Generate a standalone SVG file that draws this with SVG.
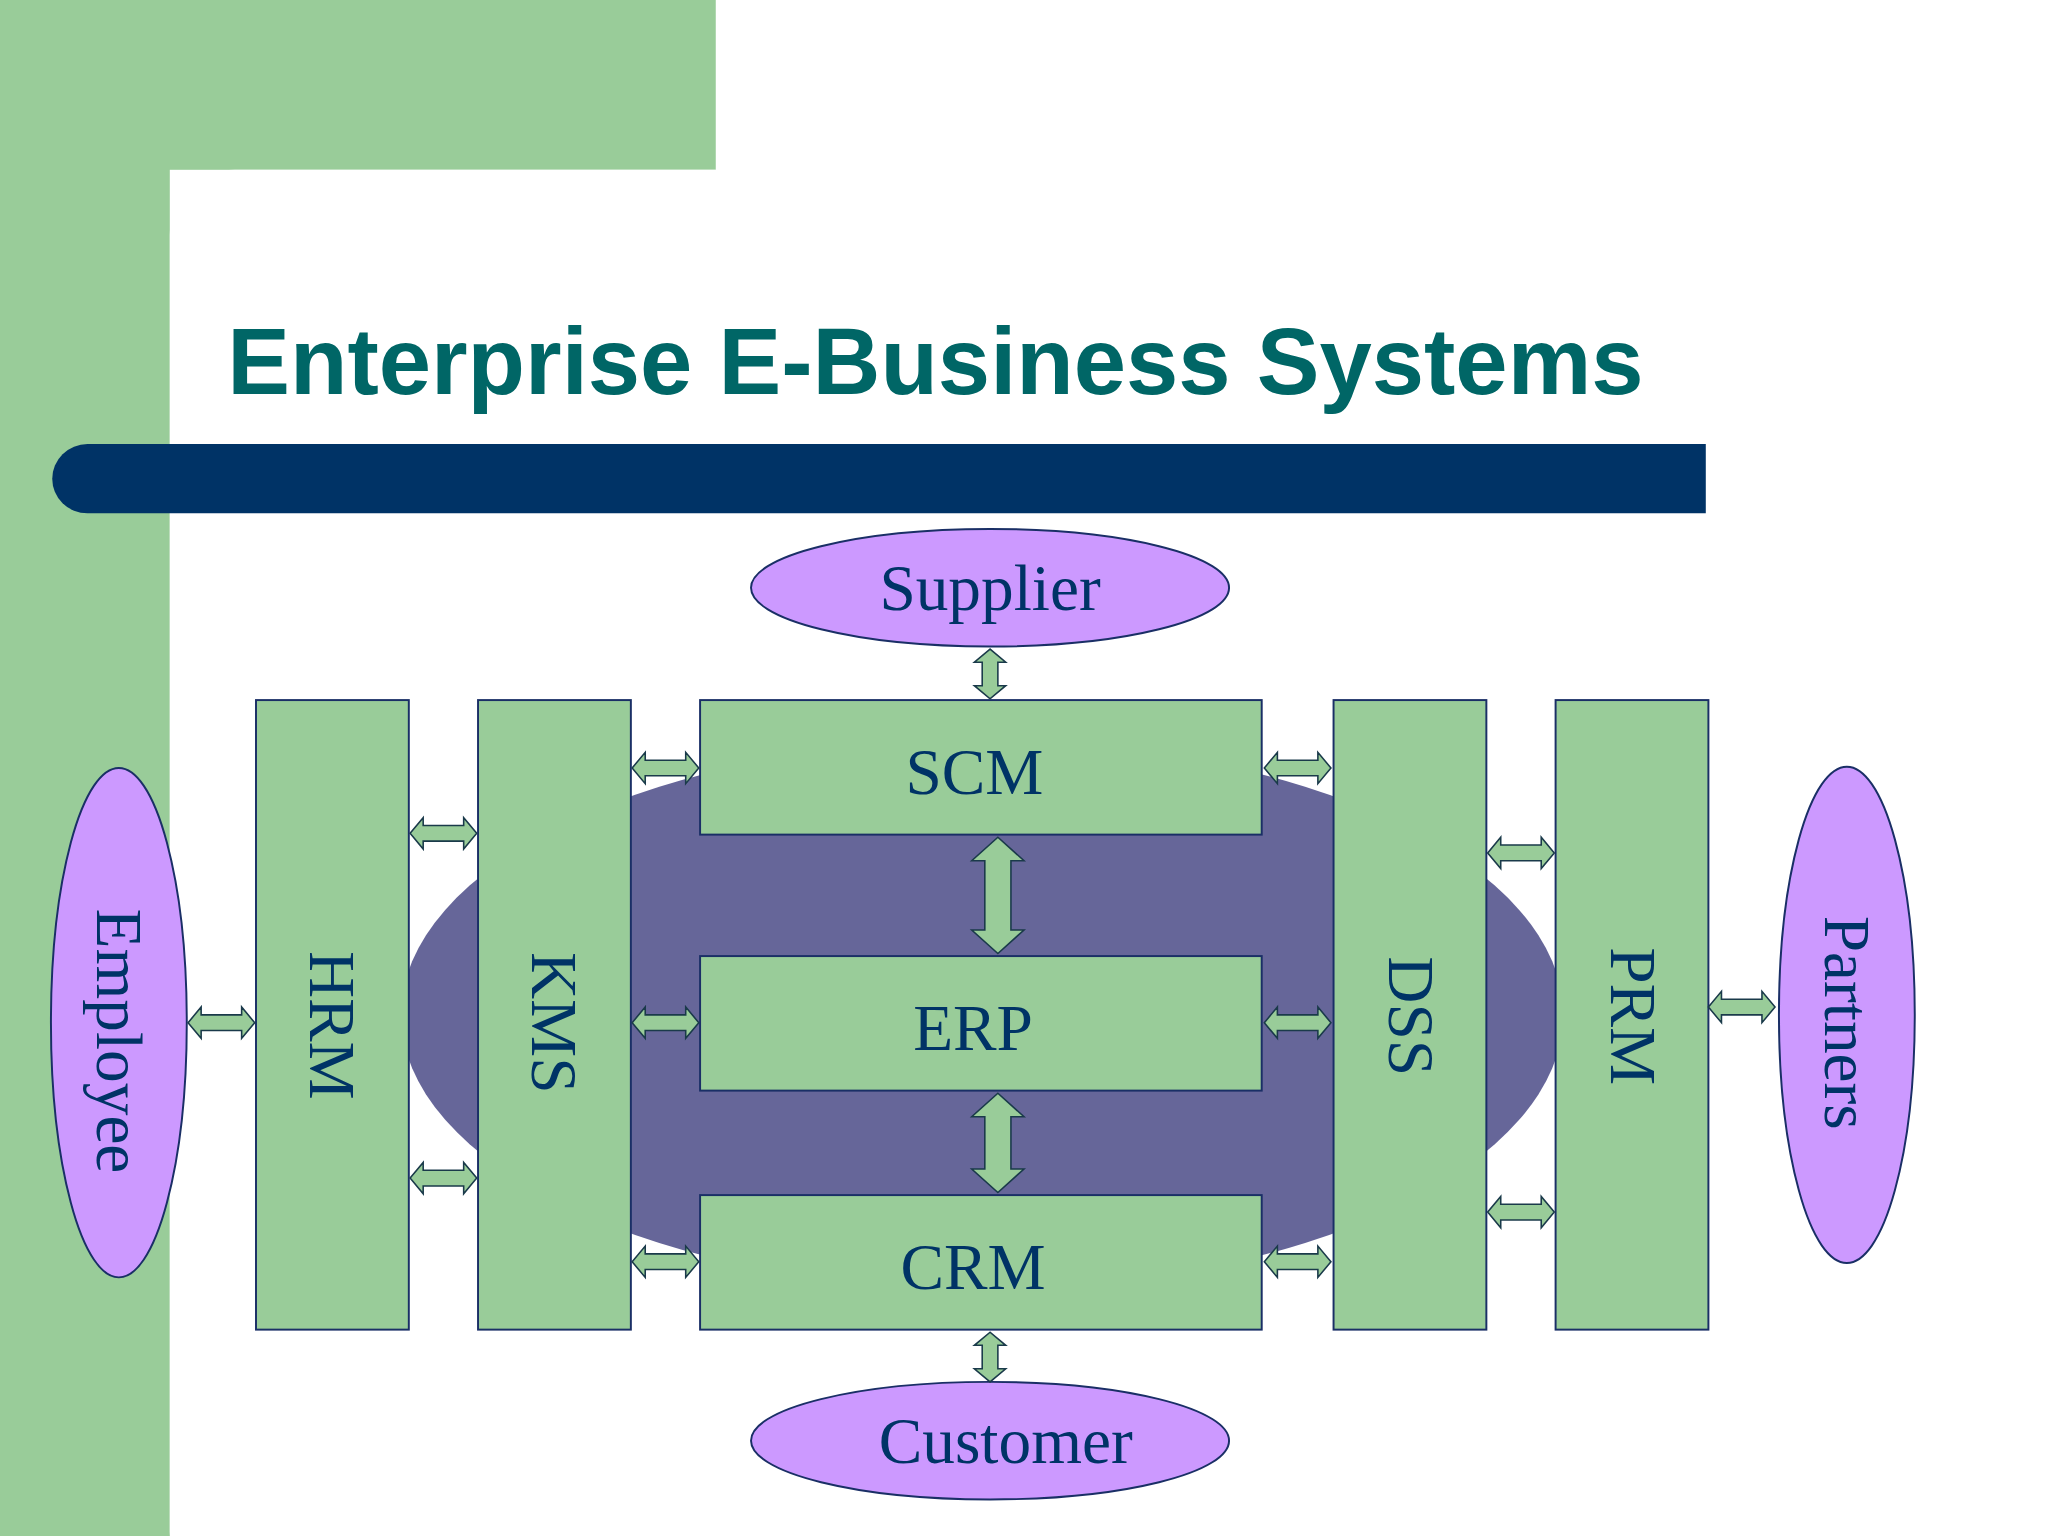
<svg xmlns="http://www.w3.org/2000/svg" width="2048" height="1536" viewBox="0 0 2048 1536">
<style>
.box{fill:#99cc99;stroke:#1a2f66;stroke-width:1.5}
.ell{fill:#cc99ff;stroke:#1a2f66;stroke-width:1.5}
.lbl{font-family:"Liberation Serif",serif;font-size:50px;fill:#003366;text-anchor:middle;dominant-baseline:central}
.arr{fill:#99cc99;stroke:#1a3a4a;stroke-width:1.2}
</style>
<defs>
<path id="ha" class="arr" d="M0 0 L10 -12 L10 -6 L41 -6 L41 -12 L51 0 L41 12 L41 6 L10 6 L10 12Z"/>
<path id="vs" class="arr" d="M0 0 L-12 10 L-6 10 L-6 28 L-12 28 L0 38 L12 28 L6 28 L6 10 L12 10Z"/>
</defs>
<rect width="2048" height="1536" fill="#ffffff"/>
<g transform="scale(1.306122)">
<rect x="0" y="0" width="548" height="130" fill="#99cc99"/>
<rect x="0" y="0" width="130" height="1176" fill="#99cc99"/>
<path d="M130 1176 L130 180 A50 50 0 0 1 180 130 L548 130 L548 180 L180 180Z" fill="#ffffff"/>
<text x="174" y="302" font-family="Liberation Sans,Arial,sans-serif" font-weight="bold" font-size="72" fill="#006666">Enterprise E-Business Systems</text>
<path d="M67 340 L1306 340 L1306 393 L67 393 A27 26.5 0 0 1 67 340Z" fill="#003366"/>
<ellipse cx="752" cy="777" rx="445" ry="210" fill="#666699"/>
<g id="supplier"><ellipse class="ell" cx="758" cy="450" rx="183" ry="45"/><text class="lbl" x="758" y="450">Supplier</text></g>
<g id="customer"><ellipse class="ell" cx="758" cy="1103" rx="183" ry="45"/><text class="lbl" x="770" y="1103">Customer</text></g>
<g id="employee"><ellipse class="ell" cx="91" cy="783" rx="52" ry="195"/><text class="lbl" transform="translate(91,797) rotate(90)">Employee</text></g>
<g id="partners"><ellipse class="ell" cx="1414" cy="777" rx="52" ry="190"/><text class="lbl" transform="translate(1414,783) rotate(90)">Partners</text></g>
<g id="hrm"><rect class="box" x="196" y="536" width="117" height="482"/><text class="lbl" transform="translate(254,785) rotate(90)">HRM</text></g>
<g id="kms"><rect class="box" x="366" y="536" width="117" height="482"/><text class="lbl" transform="translate(424,783) rotate(90)">KMS</text></g>
<g id="scm"><rect class="box" x="536" y="536" width="430" height="103"/><text class="lbl" x="746" y="591">SCM</text></g>
<g id="erp"><rect class="box" x="536" y="732" width="430" height="103"/><text class="lbl" x="745" y="787">ERP</text></g>
<g id="crm"><rect class="box" x="536" y="915" width="430" height="103"/><text class="lbl" x="745" y="970">CRM</text></g>
<g id="dss"><rect class="box" x="1021" y="536" width="117" height="482"/><text class="lbl" transform="translate(1080,778) rotate(90)">DSS</text></g>
<g id="prm"><rect class="box" x="1191" y="536" width="117" height="482"/><text class="lbl" transform="translate(1250,778) rotate(90)">PRM</text></g>
<g id="connectors">
<use href="#ha" transform="translate(144,783)"/>
<use href="#ha" transform="translate(314,638)"/>
<use href="#ha" transform="translate(314,902)"/>
<use href="#ha" transform="translate(484,588)"/>
<use href="#ha" transform="translate(484,783)"/>
<use href="#ha" transform="translate(484,966)"/>
<use href="#ha" transform="translate(968,588)"/>
<use href="#ha" transform="translate(968,783)"/>
<use href="#ha" transform="translate(968,966)"/>
<use href="#ha" transform="translate(1139,653)"/>
<use href="#ha" transform="translate(1139,928)"/>
<use href="#ha" transform="translate(1308,771)"/>
<use href="#vs" transform="translate(758,497)"/>
<use href="#vs" transform="translate(758,1020)"/>
<path class="arr" transform="translate(764,641)" d="M0 0 L-20 18 L-10 18 L-10 71 L-20 71 L0 89 L20 71 L10 71 L10 18 L20 18Z"/>
<path class="arr" transform="translate(764,837)" d="M0 0 L-20 18 L-10 18 L-10 58 L-20 58 L0 76 L20 58 L10 58 L10 18 L20 18Z"/>
</g>
</g>
</svg>
